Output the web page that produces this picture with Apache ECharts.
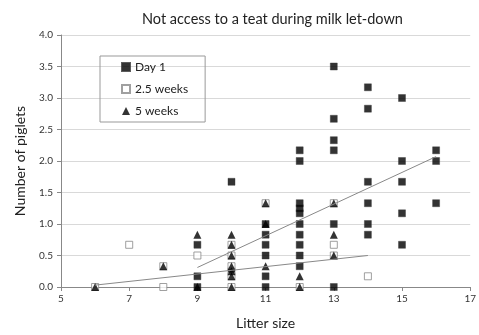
<!DOCTYPE html>
<html><head><meta charset="utf-8">
<script src="https://cdn.jsdelivr.net/npm/echarts@6/dist/echarts.min.js"></script>
<style>html,body{margin:0;padding:0;background:#fff}#c{width:479px;height:335px}</style>
</head><body><div id="c"></div>
<script>
// Day 1 points [litter size, number of piglets]
var day1X = [9,9,9, 10,10, 11,11,11,11,11,11, 12,12,12,12,12,12,12,12,12,12, 13,13,13,13,13,13, 14,14,14,14,14,14, 15,15,15,15,15, 16,16,16];
var day1Y = [0.67,0.17,0, 1.67,0.25, 1.0,0.83,0.67,0.5,0.17,0, 2.17,2.0,1.33,1.25,1.17,1.0,0.83,0.67,0.5,0.33, 3.5,2.67,2.33,2.17,1.0,0, 3.17,2.83,1.67,1.33,1.0,0.83, 3.0,2.0,1.67,1.17,0.67, 2.17,2.0,1.33];
// 2.5 weeks
var wk25X = [6, 7, 8,8, 9, 10,10,10,10,10, 11, 12, 13,13,13, 14];
var wk25Y = [0, 0.67, 0.33,0, 0.5, 0.67,0.5,0.33,0.17,0, 1.33, 0, 1.33,0.67,0.5, 0.17];
// 5 weeks
var wk5X = [6, 8, 9,9, 10,10,10,10,10,10,10, 11,11,11, 12,12, 13,13,13];
var wk5Y = [0, 0.33, 0.83,0, 0.83,0.67,0.5,0.33,0.25,0.17,0, 1.33,1.0,0.33, 0.17,0, 1.33,0.83,0.5];
// Linear trend lines (endpoints)
var trendDay1X = [9, 16];
var trendDay1Y = [0.31, 2.07];
var trendWk25X = [6, 14];
var trendWk25Y = [0.03, 0.5];
// Axis ticks
var xTicks = [5,7,9,11,13,15,17];

function pairs(xs, ys){ return xs.map(function(x,i){ return [x, ys[i]]; }); }

var chart = echarts.init(document.getElementById('c'), null, {renderer:'canvas'});
var FONT = 'Lato';
chart.setOption({
  animation:false,
  title:{ text:'Not access to a teat during milk let-down', left:137, top:7,
    textStyle:{ fontFamily:FONT, fontSize:14.5, fontWeight:'normal', color:'#222' } },
  legend:{ orient:'vertical', left:100, top:56, itemGap:10, itemWidth:8, itemHeight:8,
    borderColor:'#999', borderWidth:1, padding:[5,17,5,21], itemTextGap:3,
    textStyle:{ fontFamily:FONT, fontSize:12, color:'#222' },
    data:[{name:'Day 1', icon:'rect'},{name:'2.5 weeks', icon:'rect'},{name:'5 weeks', icon:'triangle'}] },
  grid:{ left:61, right:4, top:35, bottom:45, containLabel:false },
  xAxis:{ type:'value', min:5, max:17, interval:1,
    name:'Litter size', nameLocation:'middle', nameGap:29,
    nameTextStyle:{ fontFamily:FONT, fontSize:14, color:'#222' },
    axisLine:{ lineStyle:{ color:'#888' } },
    axisTick:{ show:true, length:4, lineStyle:{color:'#888'}, customValues:xTicks },
    axisLabel:{ fontFamily:FONT, fontSize:10, color:'#333', margin:7, customValues:xTicks },
    splitLine:{ show:false } },
  yAxis:{ type:'value', min:0, max:4, interval:0.5,
    name:'Number of piglets', nameLocation:'middle', nameGap:34,
    nameTextStyle:{ fontFamily:FONT, fontSize:14, color:'#222' },
    axisLine:{ show:true, lineStyle:{ color:'#888' } },
    axisTick:{ show:true, length:4, lineStyle:{color:'#888'} },
    axisLabel:{ fontFamily:FONT, fontSize:10, color:'#333', margin:8,
      formatter:function(v){ return v.toFixed(1); } },
    splitLine:{ lineStyle:{ color:'#d9d9d9', width:1 } } },
  series:[
    { name:'Day 1', type:'scatter', symbol:'rect', symbolSize:7, z:2,
      itemStyle:{ color:'#000', borderColor:'#333', borderWidth:0.5 },
      data:pairs(day1X, day1Y) },
    { name:'2.5 weeks', type:'scatter', symbol:'rect', symbolSize:7, z:3,
      itemStyle:{ color:'#fff', borderColor:'#888', borderWidth:1 },
      data:pairs(wk25X, wk25Y) },
    { name:'5 weeks', type:'scatter', symbol:'triangle', symbolSize:[8,8], z:4,
      itemStyle:{ color:'#000' },
      data:pairs(wk5X, wk5Y) },
    { name:'trend1', type:'line', symbol:'none', z:5, silent:true,
      lineStyle:{ color:'#888', width:1 }, data:pairs(trendDay1X, trendDay1Y) },
    { name:'trend25', type:'line', symbol:'none', z:5, silent:true,
      lineStyle:{ color:'#888', width:1 }, data:pairs(trendWk25X, trendWk25Y) }
  ]
});
</script></body></html>
